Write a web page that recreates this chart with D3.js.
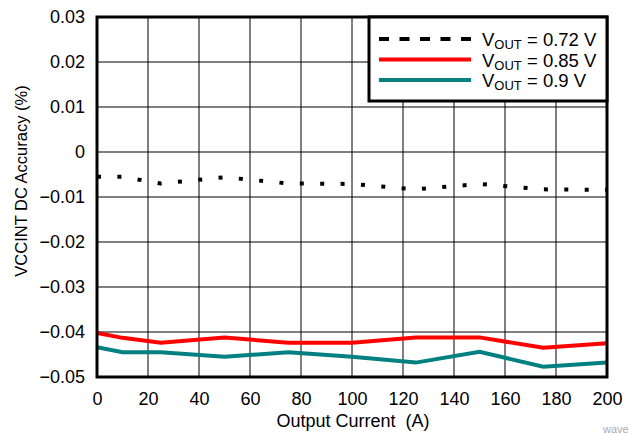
<!DOCTYPE html>
<html>
<head>
<meta charset="utf-8">
<script src="https://cdn.jsdelivr.net/npm/d3@7"></script>
<style>
  body { margin: 0; background: #fff; }
  svg { font-family: "Liberation Sans", Arial, sans-serif; }
</style>
</head>
<body>
<div id="chart"></div>
<script>
// data
var currents = [0, 10, 25, 50, 75, 100, 125, 150, 175, 200];
var vout072 = [-0.0055, -0.0055, -0.0070, -0.0056, -0.0070, -0.0071, -0.0083, -0.0071, -0.0083, -0.0084];
var vout085 = [-0.0402, -0.0413, -0.0424, -0.0412, -0.0424, -0.0424, -0.0412, -0.0412, -0.0435, -0.0425];
var vout09  = [-0.0434, -0.0445, -0.0445, -0.0455, -0.0445, -0.0455, -0.0468, -0.0444, -0.0477, -0.0468];
var xTicks = [0, 20, 40, 60, 80, 100, 120, 140, 160, 180, 200];
var yTicks = [0.03, 0.02, 0.01, 0, -0.01, -0.02, -0.03, -0.04, -0.05];
var seriesNames = ["0.72 V", "0.85 V", "0.9 V"];

var width = 634,
    height = 434,
    pLeft = 97, pRight = 607, pTop = 17, pBottom = 377;

var series = [
    {name: seriesNames[0], values: vout072, color: "#000", dash: "4,16.4", legendDash: "10,10.5"},
    {name: seriesNames[1], values: vout085, color: "#ff0000", dash: null},
    {name: seriesNames[2], values: vout09,  color: "#008080", dash: null}
];

var x = d3.scaleLinear().domain([0, 200]).range([pLeft, pRight]);
var y = d3.scaleLinear().domain([-0.05, 0.03]).range([pBottom, pTop]);

var svg = d3.select("#chart")
    .append("svg")
    .attr("width", width)
    .attr("height", height);

// grid
svg.append("g")
    .selectAll("line")
    .data(xTicks)
    .enter()
    .append("line")
    .attr("x1", d => x(d)).attr("x2", d => x(d))
    .attr("y1", pTop).attr("y2", pBottom)
    .style("stroke", "#000")
    .style("stroke-width", 1);

svg.append("g")
    .selectAll("line")
    .data(yTicks)
    .enter()
    .append("line")
    .attr("x1", pLeft).attr("x2", pRight)
    .attr("y1", d => y(d)).attr("y2", d => y(d))
    .style("stroke", "#000")
    .style("stroke-width", 1);

// axes labels
var xAxis = d3.axisBottom(x).tickValues(xTicks).tickSize(0).tickPadding(15).tickFormat(d3.format("d"));
var yAxis = d3.axisLeft(y).tickValues(yTicks).tickSize(0).tickPadding(12).tickFormat(d => d === 0 ? "0" : d3.format(".2f")(d));

var gx = svg.append("g").attr("transform", "translate(0," + pBottom + ")").call(xAxis);
var gy = svg.append("g").attr("transform", "translate(" + pLeft + ",0)").call(yAxis);
[gx, gy].forEach(function(g) {
    g.select(".domain").remove();
    g.selectAll("text")
        .style("font-size", "18px")
        .style("font-family", "'Liberation Sans', Arial, sans-serif")
        .style("fill", "#000");
});

// lines
var line = d3.line()
    .x((d, i) => x(currents[i]))
    .y(d => y(d));

var plot = svg.append("g");
plot.append("clipPath").attr("id", "clip")
    .append("rect").attr("x", pLeft).attr("y", pTop).attr("width", pRight - pLeft).attr("height", pBottom - pTop);

plot.selectAll(".line")
    .data(series.slice().reverse())
    .enter()
    .append("path")
    .attr("class", "line")
    .attr("clip-path", "url(#clip)")
    .attr("d", d => line(d.values))
    .style("fill", "none")
    .style("stroke", d => d.color)
    .style("stroke-width", 4)
    .style("stroke-dasharray", d => d.dash);

// frame
svg.append("rect")
    .attr("x", pLeft).attr("y", pTop)
    .attr("width", pRight - pLeft).attr("height", pBottom - pTop)
    .style("fill", "none")
    .style("stroke", "#000")
    .style("stroke-width", 3);

// legend
var lg = svg.append("g");
lg.append("rect")
    .attr("x", 369).attr("y", pTop)
    .attr("width", pRight - 369).attr("height", 84)
    .style("fill", "#fff")
    .style("stroke", "#000")
    .style("stroke-width", 3);

var rows = lg.selectAll(".row")
    .data(series)
    .enter()
    .append("g")
    .attr("transform", (d, i) => "translate(0," + (39 + i * 20.5) + ")");

rows.append("line")
    .attr("x1", 379).attr("x2", 471)
    .style("stroke", d => d.color)
    .style("stroke-width", 4)
    .style("stroke-dasharray", d => d.legendDash || null);

var lt = rows.append("text")
    .attr("x", 482)
    .attr("y", 7)
    .style("font-size", "18.5px")
    .style("fill", "#000");
lt.append("tspan").text("V");
lt.append("tspan").attr("dy", 3).style("font-size", "13px").text("OUT");
lt.append("tspan").attr("dy", -3).text(d => " = " + d.name);

// axis titles
svg.append("text")
    .attr("x", 353)
    .attr("y", 427)
    .attr("text-anchor", "middle")
    .style("font-size", "18px")
    .text("Output Current\u00a0 (A)");

svg.append("text")
    .attr("transform", "translate(27,181) rotate(-90)")
    .attr("text-anchor", "middle")
    .style("font-size", "16.5px")
    .text("VCCINT DC Accuracy (%)");

svg.append("text")
    .attr("x", 603).attr("y", 433)
    .style("font-size", "11px")
    .style("fill", "#aaa")
    .text("wave");
</script>
</body>
</html>
